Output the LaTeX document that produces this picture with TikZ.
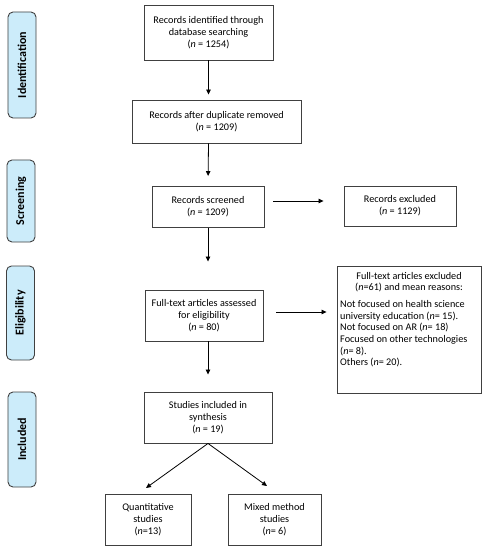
\documentclass[tikz,border=0pt]{standalone}
\usepackage{fontspec}
\setmainfont{Carlito}
\usetikzlibrary{arrows.meta,calc}
\definecolor{sidefill}{RGB}{204,236,250}
\definecolor{linegray}{RGB}{64,64,64}
\begin{document}
\begin{tikzpicture}[x=1bp,y=-1bp,
  box/.style={draw=linegray,line width=0.9bp,align=center,inner sep=0pt,
    font=\fontsize{10.2bp}{12.2bp}\selectfont},
  side/.style={draw=linegray,line width=0.9bp,fill=sidefill,rounded corners=5bp,
    minimum width=28bp,inner sep=0pt},
  sidetext/.style={rotate=90,font=\fontsize{12bp}{14bp}\selectfont\bfseries},
  arr/.style={draw=black,line width=0.8bp,-{Triangle[length=5bp,width=4.5bp]}}]
\useasboundingbox (0,0) rectangle (487,550);
% side labels
\node[side,minimum height=106bp] (sI) at (22,65) {};
\node[sidetext] (tI) at (sI.center) {Identification};
\node[side,minimum height=82bp] (sS) at (21,201) {};
\node[sidetext] (tS) at (sS.center) {Screening};
\node[side,minimum height=94bp] (sE) at (20.5,313) {};
\node[sidetext] (tE) at (sE.center) {Eligibility};
\node[side,minimum height=95bp] (sN) at (22,439.5) {};
\node[sidetext] (tN) at (sN.center) {Included};
% boxes
\node[box,minimum width=129bp,minimum height=55bp] (n1) at (208.5,32.5)
  {Records identified through\\database searching\\(\textit{n} = 1254)};
\node[box,minimum width=169bp,minimum height=43bp] (n2) at (216.5,121.5)
  {Records after duplicate removed\\(\textit{n} = 1209)};
\node[box,minimum width=112bp,minimum height=41bp] (n3) at (208,207)
  {Records screened\\(\textit{n} = 1209)};
\node[box,minimum width=112bp,minimum height=40bp] (n4) at (400,206)
  {Records excluded\\(\textit{n} = 1129)};
\node[box,minimum width=118bp,minimum height=51bp] (n5) at (204,315.5)
  {Full-text articles assessed\\for eligibility\\(\textit{n} = 80)};
\node[box,minimum width=144bp,minimum height=127bp] (n6) at (409,329.5) {};
\node[anchor=north,align=center,inner sep=0pt,font=\fontsize{10.2bp}{11.6bp}\selectfont] (n6a) at (409,272)
  {Full-text articles excluded\\(\textit{n}=61) and mean reasons:};
\node[anchor=north west,align=left,inner sep=0pt,font=\fontsize{10.2bp}{11.6bp}\selectfont] (n6b) at (340,300.5)
  {Not focused on health science\\university education (\textit{n}= 15).\\Not focused on AR (\textit{n}= 18)\\Focused on other technologies\\(\textit{n}= 8).\\Others (\textit{n}= 20).};
\node[box,minimum width=128bp,minimum height=51bp] (n7) at (208,417.5)
  {Studies included in\\synthesis\\(\textit{n} = 19)};
\node[box,minimum width=86bp,minimum height=51bp] (n8) at (148,519.5)
  {Quantitative\\studies\\(\textit{n}=13)};
\node[box,minimum width=93bp,minimum height=51bp] (n9) at (274.5,519.5)
  {Mixed method\\studies\\(\textit{n}= 6)};
% arrows
\draw[arr,shorten >=5bp] (n1.south) -- (n1.south |- n2.north);
\draw[arr,shorten >=10bp] (n1.south |- n2.south) -- (n3.north);
\draw[arr,shorten <=9bp,shorten >=20bp] ([yshift=6bp]n3.east) -- ([yshift=6bp]n3.east -| n4.west);
\draw[arr,shorten >=28bp] (n3.south) -- (n3.south |- n5.north);
\draw[arr,shorten <=13bp,shorten >=10bp] ([yshift=3.5bp]n5.east) -- ([yshift=3.5bp]n5.east -| n6.west);
\draw[arr,shorten >=17bp] (n3.south |- n5.south) -- (n7.north);
\coordinate (t8) at (146,488);
\coordinate (t9) at (267,486);
\draw[arr] (n7.south) -- (t8);
\draw[arr] (n7.south) -- (t9);
\end{tikzpicture}
\end{document}
